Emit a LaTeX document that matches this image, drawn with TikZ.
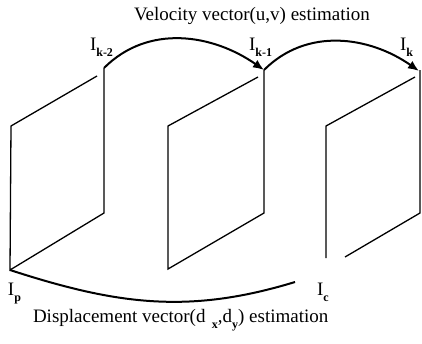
\documentclass[tikz,border=0pt]{standalone}
\usepackage{fontspec}
\setmainfont{Liberation Serif}
\usetikzlibrary{arrows.meta}
\newcommand{\lowsub}[1]{\raisebox{-6pt}{\fontsize{12}{14}\selectfont\bfseries #1}}
\begin{document}
\begin{tikzpicture}[x=1pt,y=-1pt,every node/.style={inner sep=0pt,outer sep=0pt,font=\fontsize{19}{22}\selectfont},frame/.style={line width=1.3pt},flow/.style={line width=2pt,-{Latex[length=11pt,width=9pt]}}]
\useasboundingbox (0,0) rectangle (422,343);
\coordinate (k2) at (104,68);
\coordinate (k1) at (264,70);
\coordinate (k) at (419,71);
\coordinate (p) at (10,270);
\coordinate (c) at (295,282);
\draw[frame] (97,76) -- (11,126) -- (p) -- (104,213) -- (k2);
\draw[frame] (258,77) -- (168,126) -- (168,269) -- (264,213) -- (k1);
\draw[frame] (415,77) -- (326,126) -- (326,258);
\draw[frame] (345,257) -- (420,213) -- (420,70);
\draw[flow] (k2) to[out=45,in=145] (k1);
\draw[flow] (k1) to[out=45,in=145] (k);
\draw[line width=2pt] (p) to[out=-18,in=197] (c);
\node[anchor=base] (vel) at (252,20) {Velocity vector(u,v) estimation};
\node[anchor=base west] (lk2) at (90,50) {I\lowsub{k-2}};
\node[anchor=base west] (lk1) at (249,50) {I\lowsub{k-1}};
\node[anchor=base west] (lk) at (400,50) {I\lowsub{k}};
\node[anchor=base west] (lp) at (8,295) {I\lowsub{p}};
\node[anchor=base west] (lc) at (317,295) {I\lowsub{c}};
\node[anchor=base west] (disp) at (33,322) {Displacement vector(d\,\,\lowsub{x},d\lowsub{y}) estimation};
\end{tikzpicture}
\end{document}
